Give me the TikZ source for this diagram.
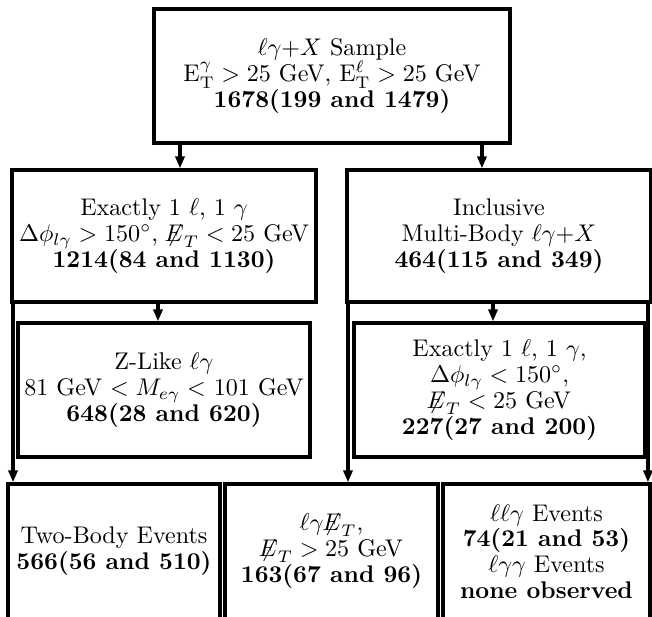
\documentclass[tikz,border=0pt]{standalone}
\usepackage{amsmath}
\usepackage{amssymb}
\usepackage{tikz}
\usetikzlibrary{arrows.meta}

\newcommand{\missET}{{\not\!\!E}_T}

\begin{document}
\begin{tikzpicture}[
        box/.style={draw, line width=1.4pt, align=center, inner sep=2pt, font=\fontsize{10}{10.7}\selectfont},
        arr/.style={line width=1.3pt, -{Triangle[length=5pt, width=3.8pt]}}
    ]
        \useasboundingbox (0,0) rectangle (9.513,8.988);
        \clip (0,0) rectangle (9.513,8.988);

        % Selection boxes
        \node[box, minimum width=5.194cm, minimum height=1.955cm] (sample) at (4.844, 7.879)
            {$\ell\gamma$+$X$ Sample\\ $\mathrm{E}_{\mathrm{T}}^{\gamma} > 25$ GeV, $\mathrm{E}_{\mathrm{T}}^{\ell} > 25$ GeV\\ \textbf{1678(199 and 1479)}};
        \node[box, minimum width=4.435cm, minimum height=1.926cm] (twobody) at (2.393, 5.544)
            {Exactly 1 $\ell$, 1 $\gamma$\\ $\Delta\phi_{l\gamma} > 150^\circ$, $\missET < 25$ GeV\\ \textbf{1214(84 and 1130)}};
        \node[box, minimum width=4.435cm, minimum height=1.926cm] (multibody) at (7.280, 5.544)
            {Inclusive\\ Multi-Body $\ell\gamma$+$X$\\ \textbf{464(115 and 349)}};
        \node[box, minimum width=4.260cm, minimum height=1.955cm] (zlike) at (2.393, 3.297)
            {Z-Like $\ell\gamma$\\ 81 GeV $< M_{e\gamma} <$ 101 GeV\\ \textbf{648(28 and 620)}};
        \node[box, minimum width=4.246cm, minimum height=1.955cm] (onelg) at (7.288, 3.297)
            {Exactly 1 $\ell$, 1 $\gamma$,\\ $\Delta\phi_{l\gamma} < 150^\circ$,\\ $\missET < 25$ GeV\\ \textbf{227(27 and 200)}};

        % Final samples (run off the bottom edge)
        \node[box, minimum width=3.093cm, minimum height=1.966cm] (twoev) at (1.663, 0.943)
            {Two-Body Events\\ \textbf{566(56 and 510)}};
        \node[box, minimum width=3.108cm, minimum height=1.966cm] (lgmet) at (4.837, 0.943)
            {$\ell\gamma\missET$,\\ $\missET > 25$ GeV\\ \textbf{163(67 and 96)}};
        \node[box, minimum width=3.020cm, minimum height=1.966cm] (llg) at (7.973, 0.943)
            {$\ell\ell\gamma$ Events\\ \textbf{74(21 and 53)}\\ $\ell\gamma\gamma$ Events\\ \textbf{none observed}};

        % Columns of the connectors
        \coordinate (c1) at (2.626, 0);
        \coordinate (c2) at (7.032, 0);
        \coordinate (c3) at (2.305, 0);
        \coordinate (c4) at (7.193, 0);
        \coordinate (c5) at (0.190, 0);
        \coordinate (c6) at (5.077, 0);
        \coordinate (c7) at (9.454, 0);

        \draw[arr] (sample.south -| c1) -- (twobody.north -| c1);
        \draw[arr] (sample.south -| c2) -- (multibody.north -| c2);
        \draw[arr] (twobody.south -| c3) -- (zlike.north -| c3);
        \draw[arr] (multibody.south -| c4) -- (onelg.north -| c4);
        \draw[arr] (twobody.south -| c5) -- (twoev.north -| c5);
        \draw[arr] (multibody.south -| c6) -- (lgmet.north -| c6);
        \draw[arr] (multibody.south -| c7) -- (llg.north -| c7);
    \end{tikzpicture}
\end{document}
